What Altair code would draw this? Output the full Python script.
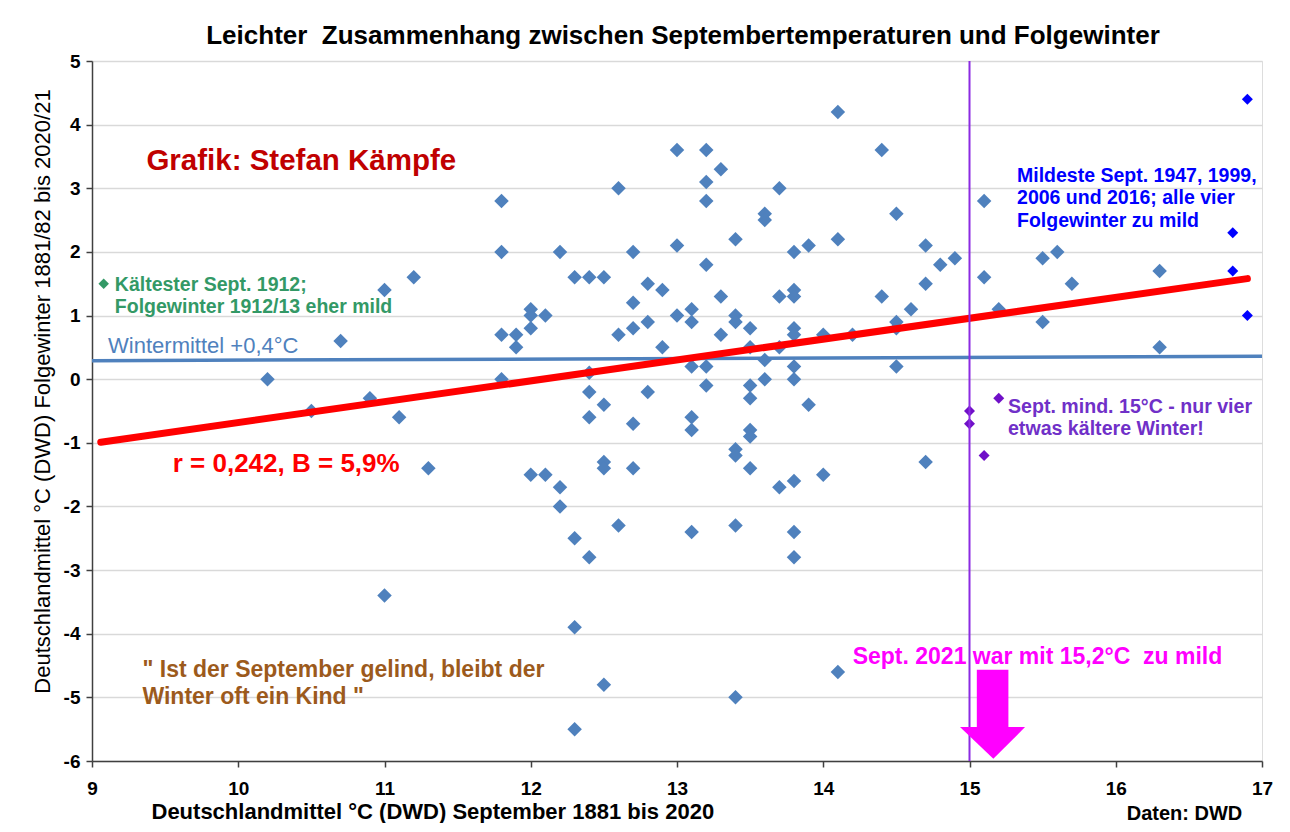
import altair as alt
import pandas as pd

# ---------------- data ----------------
sept_temp = [
    10.2, 10.5, 10.7, 10.9, 11.0, 11.0, 11.1, 11.2, 11.3,
    11.8, 11.8, 11.8, 11.8, 11.9, 11.9,
    12.0, 12.0, 12.0, 12.0, 12.1, 12.1, 12.2, 12.2, 12.2,
    12.3, 12.3, 12.3, 12.3, 12.4, 12.4, 12.4, 12.4, 12.4,
    12.5, 12.5, 12.5, 12.5, 12.5, 12.6, 12.6, 12.6,
    12.7, 12.7, 12.7, 12.7, 12.7, 12.8, 12.8, 12.8, 12.9, 12.9,
    13.0, 13.0, 13.0, 13.1, 13.1, 13.1, 13.1, 13.1, 13.1,
    13.2, 13.2, 13.2, 13.2, 13.2, 13.2, 13.3, 13.3, 13.3,
    13.4, 13.4, 13.4, 13.4, 13.4, 13.4, 13.4,
    13.5, 13.5, 13.5, 13.5, 13.5, 13.5, 13.5,
    13.6, 13.6, 13.6, 13.6, 13.7, 13.7, 13.7, 13.7,
    13.8, 13.8, 13.8, 13.8, 13.8, 13.8, 13.8, 13.8, 13.8, 13.8,
    13.9, 13.9, 14.0, 14.0, 14.1, 14.1, 14.1, 14.2, 14.4, 14.4,
    14.5, 14.5, 14.5, 14.5, 14.6, 14.7, 14.7, 14.7, 14.8, 14.9,
    15.1, 15.1, 15.2, 15.5, 15.5, 15.6, 15.7, 16.3, 16.3,
]
winter_temp = [
    0.0, -0.5, 0.6, -0.3, 1.4, -3.4, -0.6, 1.6, -1.4,
    2.8, 2.0, 0.7, 0.0, 0.7, 0.5,
    1.1, 1.0, 0.8, -1.5, 1.0, -1.5, 2.0, -1.7, -2.0,
    1.6, -2.5, -3.9, -5.5, 1.6, 0.1, -0.2, -0.6, -2.8,
    1.6, -0.4, -1.3, -1.4, -4.8, 3.0, 0.7, -2.3,
    2.0, 1.2, 0.8, -0.7, -1.4, 1.5, 0.9, -0.2, 1.4, 0.5,
    3.6, 2.1, 1.0, 1.1, 0.9, 0.2, -0.6, -0.8, -2.4,
    3.6, 3.1, 2.8, 1.8, 0.2, -0.1, 3.3, 1.3, 0.7,
    2.2, 1.0, 0.9, -1.1, -1.2, -2.3, -5.0,
    0.8, 0.5, -0.1, -0.3, -0.8, -0.9, -1.4,
    2.6, 2.5, 0.3, 0.0, 3.0, 1.3, 0.5, -1.7,
    2.0, 1.4, 1.3, 0.8, 0.7, 0.2, 0.0, -1.6, -2.4, -2.8,
    2.1, -0.4, 0.7, -1.5, 4.2, 2.2, -4.6, 0.7, 3.6, 1.3,
    2.6, 0.9, 0.8, 0.2, 1.1, 2.1, 1.5, -1.3, 1.8, 1.9,
    2.8, 1.6, 1.1, 1.9, 0.9, 2.0, 1.5, 1.7, 0.5,
]

mild_sept = [16.9, 16.8, 16.8, 16.9]          # mildest Septembers
mild_winter = [4.4, 2.3, 1.7, 1.0]
warm_sept = [15.2, 15.0, 15.0, 15.1]          # Sept >= 15 with colder winters
warm_winter = [-0.3, -0.5, -0.7, -1.2]
cold_sept = [9.08]                             # coldest September 1912
cold_winter = [1.5]

trend_x = [9.06, 16.9]
trend_y = [-0.99, 1.58]
mean_x = [9.0, 17.0]
mean_y = [0.29, 0.36]
marker_x = [15.0]
marker_y = [-6.0]
marker_y2 = [5.0]

arrow_shaft_x = [15.05]
arrow_shaft_x2 = [15.266]
arrow_shaft_y = [-4.565]
arrow_shaft_y2 = [-5.467]
arrow_head_y = [-5.467, -5.964]
arrow_head_x = [14.935, 15.163]
arrow_head_x2 = [15.38, 15.163]

x_ticks = [9, 10, 11, 12, 13, 14, 15, 16, 17]
y_ticks = [-6, -5, -4, -3, -2, -1, 0, 1, 2, 3, 4, 5]

TITLE = "Leichter \u00a0Zusammenhang zwischen Septembertemperaturen und Folgewinter"
X_TITLE = "Deutschlandmittel °C (DWD) September 1881 bis 2020"
Y_TITLE = "Deutschlandmittel °C (DWD) Folgewinter 1881/82 bis 2020/21"

FONT = "Liberation Sans"

# ---------------- scales / axes ----------------
xs = alt.Scale(domain=[9, 17], nice=False, zero=False)
ys = alt.Scale(domain=[-6, 5], nice=False, zero=False)

x_axis = alt.Axis(
    values=x_ticks, grid=False, format="d", labelFlush=False,
    labelFont=FONT, labelFontSize=19, labelFontWeight="bold", labelColor="black",
    labelPadding=12, domainColor="#404040", domainWidth=1.5,
    tickColor="#404040", tickWidth=1.5, tickSize=6,
    titleFont=FONT, titleFontSize=22, titleFontWeight="bold", titleColor="black",
    titleX=59, titleY=57, titleAlign="left", titleBaseline="alphabetic",
)
y_axis = alt.Axis(
    values=y_ticks, grid=True, gridColor="#d9d9d9", gridWidth=1.5,
    labelExpr="datum.value < 0 ? '-' + abs(datum.value) : '' + datum.value",
    labelFlush=False,
    labelFont=FONT, labelFontSize=19, labelFontWeight="bold", labelColor="black",
    labelPadding=6, domainColor="#404040", domainWidth=1.5,
    tickColor="#404040", tickWidth=1.5, tickSize=6,
    titleFont=FONT, titleFontSize=22, titleFontWeight="normal", titleColor="black",
    titleX=-50, titleY=330, titleAngle=270, titleAlign="center", titleBaseline="middle",
)


def X(field="x"):
    return alt.X(f"{field}:Q", scale=xs, axis=x_axis, title=X_TITLE)


def Y(field="y"):
    return alt.Y(f"{field}:Q", scale=ys, axis=y_axis, title=Y_TITLE)


# ---------------- layers ----------------
mean_line = alt.Chart(pd.DataFrame({"x": mean_x, "y": mean_y})).mark_line(
    color="#4f81bd", strokeWidth=3.5
).encode(x=X(), y=Y())

scatter = alt.Chart(pd.DataFrame({"x": sept_temp, "y": winter_temp})).mark_point(
    shape="diamond", filled=True, size=210, color="#4f81bd", opacity=1
).encode(x=X(), y=Y())

mild_pts = alt.Chart(pd.DataFrame({"x": mild_sept, "y": mild_winter})).mark_point(
    shape="diamond", filled=True, size=120, color="#0000ff", opacity=1
).encode(x=X(), y=Y())

warm_pts = alt.Chart(pd.DataFrame({"x": warm_sept, "y": warm_winter})).mark_point(
    shape="diamond", filled=True, size=120, color="#7010c8", opacity=1
).encode(x=X(), y=Y())

cold_pts = alt.Chart(pd.DataFrame({"x": cold_sept, "y": cold_winter})).mark_point(
    shape="diamond", filled=True, size=110, color="#339966", opacity=1
).encode(x=X(), y=Y())

trend = alt.Chart(pd.DataFrame({"x": trend_x, "y": trend_y})).mark_line(
    color="#ff0000", strokeWidth=7, strokeCap="round"
).encode(x=X(), y=Y())

vline = alt.Chart(pd.DataFrame({"x": marker_x, "y": marker_y, "y2": marker_y2})).mark_rule(
    color="#8b2be2", strokeWidth=2
).encode(x=X(), y=Y(), y2="y2:Q")

shaft = alt.Chart(pd.DataFrame({
    "x": arrow_shaft_x, "x2": arrow_shaft_x2, "y": arrow_shaft_y, "y2": arrow_shaft_y2
})).mark_rect(color="#ff00ff").encode(x=X(), x2="x2:Q", y=Y(), y2="y2:Q")

head = alt.Chart(pd.DataFrame({
    "y": arrow_head_y, "x": arrow_head_x, "x2": arrow_head_x2
})).mark_area(color="#ff00ff", orient="horizontal", opacity=1).encode(
    y=Y(), x=X(), x2="x2:Q"
)


def label(lines, xs_, ys_, color, size, weight="bold"):
    df = pd.DataFrame({"x": xs_, "y": ys_, "t": lines})
    return alt.Chart(df).mark_text(
        align="left", baseline="middle", font=FONT, fontSize=size,
        fontWeight=weight, color=color
    ).encode(x=X(), y=Y(), text="t:N")


texts = [
    label(["Grafik: Stefan Kämpfe"], [9.372], [3.43], "#c00000", 29.5),
    label(["Kältester Sept. 1912;", "Folgewinter 1912/13 eher mild"],
          [9.156, 9.156], [1.48, 1.13], "#339966", 19.5),
    label(["Wintermittel +0,4°C"], [9.11], [0.52], "#4f81bd", 22, "normal"),
    label(["r = 0,242, B = 5,9%"], [9.552], [-1.326], "#ff0000", 26),
    label(["\" Ist der September gelind, bleibt der", "Winter oft ein Kind \""],
          [9.345, 9.345], [-4.575, -4.995], "#9c5a1c", 23),
    label(["Mildeste Sept. 1947, 1999,", "2006 und 2016; alle vier", "Folgewinter zu mild"],
          [15.325, 15.325, 15.325], [3.197, 2.84, 2.485], "#0000ff", 19.5),
    label(["Sept. mind. 15°C - nur vier", "etwas kältere Winter!"],
          [15.263, 15.263], [-0.435, -0.79], "#7030c8", 19.6),
    label(["Sept. 2021 war mit 15,2°C \u00a0zu mild"], [14.201], [-4.366], "#ff00ff", 23),
    label(["Daten: DWD"], [16.075], [-6.84], "black", 20),
]

chart = alt.layer(
    mean_line, scatter, mild_pts, warm_pts, cold_pts, trend, vline, shaft, head, *texts
).properties(
    width=1170, height=700,
    title=alt.TitleParams(
        text=TITLE, font=FONT, fontSize=26, fontWeight="bold", color="black",
        anchor="middle", offset=3, dx=6
    ),
    autosize=alt.AutoSizeParams(type="none"),
    padding={"left": 84, "top": 53, "right": 20, "bottom": 62},
).configure_view(
    stroke="#7f7f7f", strokeWidth=1.5
).configure(
    font=FONT, background="white"
)

chart.save("out.html", embed_options={"renderer": "svg", "actions": False})
